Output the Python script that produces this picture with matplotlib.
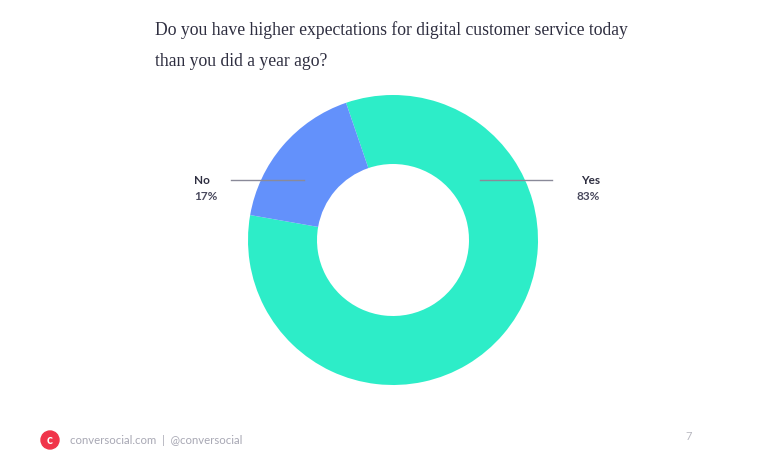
import matplotlib
matplotlib.use("Agg")
import matplotlib.pyplot as plt
from matplotlib.patches import Circle

categories = ["Yes", "No"]
values = [83, 17]
colors = ["#2DEDC8", "#6391FB"]
title_lines = ["Do you have higher expectations for digital customer service today",
               "than you did a year ago?"]

W, H = 757, 462
fig = plt.figure(figsize=(W/100, H/100), dpi=100)
ax = fig.add_axes([0, 0, 1, 1])

def Y(y):
    return H - y

cx, cy, R, r = 393, 240, 145, 76
ax.pie(values, colors=colors, startangle=108.9, counterclock=False,
       center=(cx, Y(cy)), radius=R, frame=True,
       wedgeprops=dict(width=R - r, linewidth=0))
ax.set_xlim(0, W)
ax.set_ylim(0, H)
ax.set_aspect('equal')
ax.axis('off')

title_color = "#2E2E40"
ax.text(155, Y(30), title_lines[0], family="Liberation Serif", fontsize=12.7,
        color=title_color, ha='left', va='center')
ax.text(155, Y(62), title_lines[1], family="Liberation Serif", fontsize=12.7,
        color=title_color, ha='left', va='center')

line_col = "#8A8A99"
ax.plot([231, 304], [Y(180), Y(180)], color=line_col, lw=1)
ax.plot([480, 552], [Y(180), Y(180)], color=line_col, lw=1)
lab_col = "#2E2E40"
pct_col = "#4A4A5E"
ax.text(194, Y(180), categories[1], family="Lato", fontweight='bold', fontsize=8.5,
        color=lab_col, ha='left', va='center')
ax.text(194, Y(197), f"{values[1]}%", family="Lato", fontweight='bold', fontsize=8.5,
        color=pct_col, ha='left', va='center')
ax.text(600, Y(180), categories[0], family="Lato", fontweight='bold', fontsize=8.5,
        color=lab_col, ha='right', va='center')
ax.text(600, Y(197), f"{values[0]}%", family="Lato", fontweight='bold', fontsize=8.5,
        color=pct_col, ha='right', va='center')

# footer
ax.add_patch(Circle((50, Y(440)), 9, color="#F0344A"))
ax.text(50, Y(440), "c", color="white", fontsize=9, fontweight='bold',
        ha='center', va='center', family="Lato")
ax.text(70, Y(440), "conversocial.com  |  @conversocial", family="Lato",
        fontsize=8.2, color="#A8A8B4", ha='left', va='center')
ax.text(689, Y(437), "7", family="Lato", fontsize=8, color="#B8B8C0",
        ha='center', va='center')

fig.savefig("out.png", dpi=100)
